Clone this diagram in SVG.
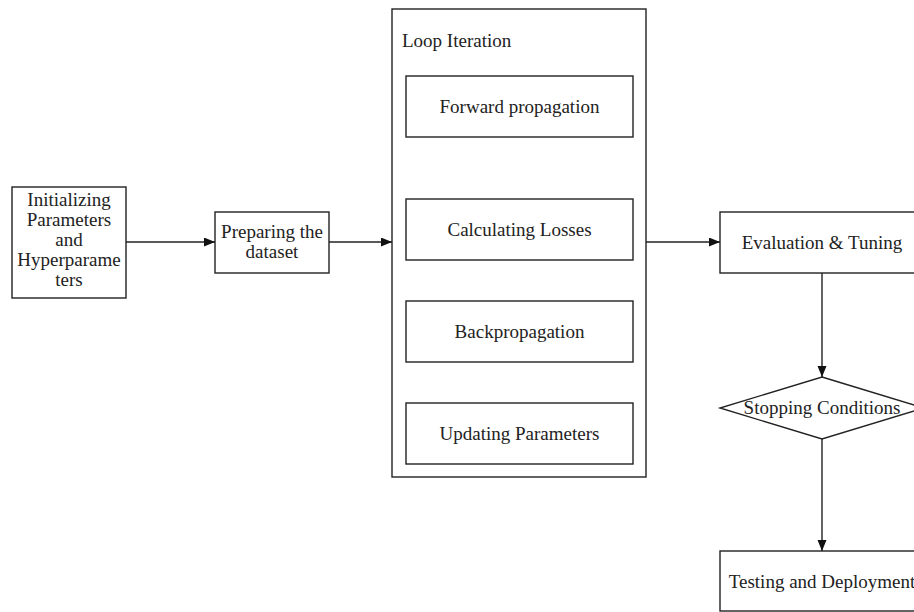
<svg xmlns="http://www.w3.org/2000/svg" width="914" height="612" viewBox="0 0 914 612">
<defs>
<style>
.box{fill:#fff;stroke:#222;stroke-width:1.4}
.lbl{font-family:"Liberation Serif","Times New Roman",serif;font-size:19px;fill:#222;text-anchor:middle}
.edge{fill:none;stroke:#222;stroke-width:1.4}
</style>
<marker id="arr" markerUnits="userSpaceOnUse" markerWidth="12" markerHeight="10" refX="11" refY="4.5" orient="auto">
<path d="M0,0 L11,4.5 L0,9 z" fill="#111"/>
</marker>
</defs>
<rect width="914" height="612" fill="#fff"/>
<g id="init">
<rect class="box" x="12" y="187" width="114" height="111"/>
<text class="lbl" x="69" y="206">Initializing</text>
<text class="lbl" x="69" y="226">Parameters</text>
<text class="lbl" x="69" y="246">and</text>
<text class="lbl" x="69" y="266">Hyperparame</text>
<text class="lbl" x="69" y="286">ters</text>
</g>
<g id="prepare">
<rect class="box" x="215" y="212" width="114" height="61"/>
<text class="lbl" x="272" y="238">Preparing the</text>
<text class="lbl" x="272" y="258">dataset</text>
</g>
<g id="loop">
<rect class="box" x="392" y="9" width="254" height="468"/>
<text class="lbl" x="402" y="47" style="text-anchor:start">Loop Iteration</text>
</g>
<g id="forward">
<rect class="box" x="406" y="76" width="227" height="61"/>
<text class="lbl" x="519.5" y="113">Forward propagation</text>
</g>
<g id="losses">
<rect class="box" x="406" y="199" width="227" height="61"/>
<text class="lbl" x="519.5" y="236">Calculating Losses</text>
</g>
<g id="backprop">
<rect class="box" x="406" y="301" width="227" height="61"/>
<text class="lbl" x="519.5" y="338">Backpropagation</text>
</g>
<g id="update">
<rect class="box" x="406" y="403" width="227" height="61"/>
<text class="lbl" x="519.5" y="440">Updating Parameters</text>
</g>
<g id="eval">
<rect class="box" x="720" y="212" width="204" height="61"/>
<text class="lbl" x="822" y="249">Evaluation &amp; Tuning</text>
</g>
<g id="stop">
<polygon class="box" points="822,377 924,408 822,439 720,408"/>
<text class="lbl" x="822" y="414">Stopping Conditions</text>
</g>
<g id="test">
<rect class="box" x="720" y="551" width="204" height="60"/>
<text class="lbl" x="822" y="588">Testing and Deployment</text>
</g>
<g id="connectors">
<line class="edge" x1="126" y1="242" x2="215" y2="242" marker-end="url(#arr)"/>
<line class="edge" x1="329" y1="242" x2="392" y2="242" marker-end="url(#arr)"/>
<line class="edge" x1="646" y1="242" x2="720" y2="242" marker-end="url(#arr)"/>
<line class="edge" x1="822" y1="273" x2="822" y2="377" marker-end="url(#arr)"/>
<line class="edge" x1="822" y1="439" x2="822" y2="551" marker-end="url(#arr)"/>
</g>
</svg>
